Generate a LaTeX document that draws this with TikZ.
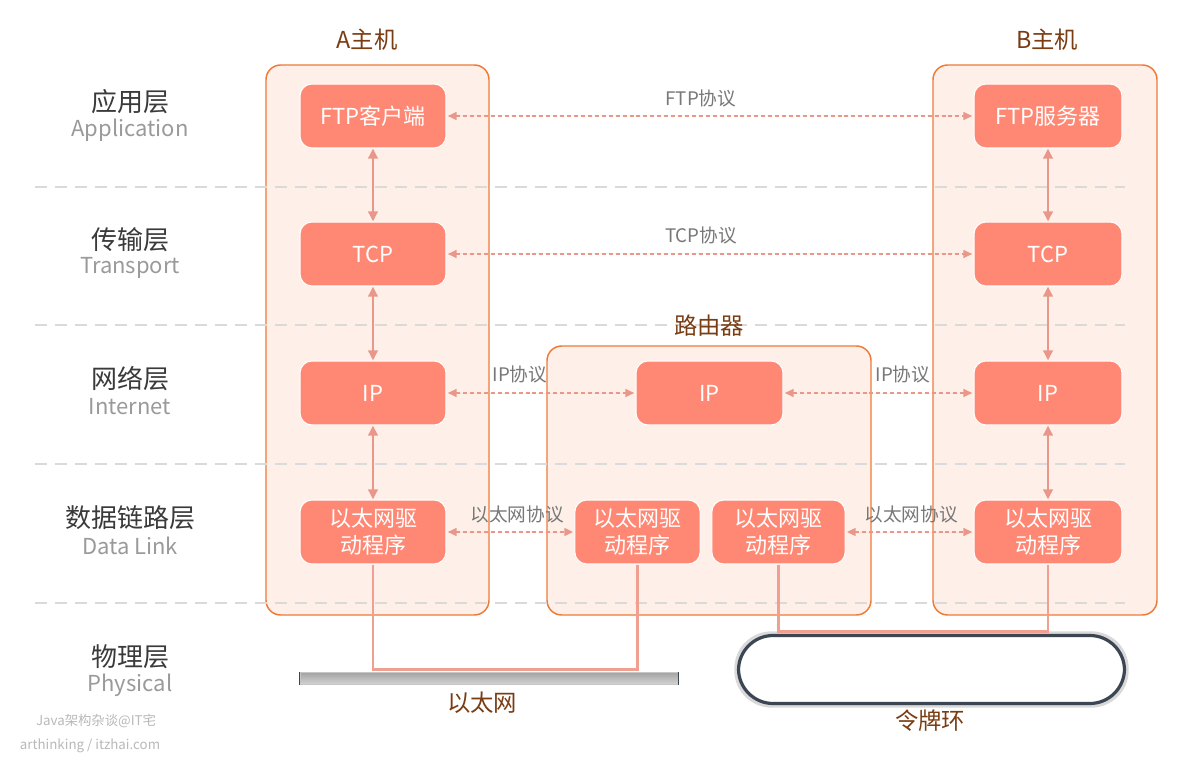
\documentclass[tikz,border=0pt]{standalone}
\usepackage{fontspec}
\setmainfont{Noto Sans CJK SC}
\usetikzlibrary{arrows.meta}
\definecolor{hostfill}{HTML}{FEF0E8}
\definecolor{hostline}{HTML}{EE7A38}
\definecolor{layerfill}{HTML}{FF8874}
\definecolor{arrowc}{HTML}{E9978A}
\definecolor{physc}{HTML}{F0A090}
\definecolor{dashc}{HTML}{DADADA}
\definecolor{brownc}{HTML}{7A3C12}
\definecolor{cnc}{HTML}{3A3A3A}
\definecolor{enc}{HTML}{9A9A9A}
\definecolor{protoc}{HTML}{787878}
\definecolor{ringc}{HTML}{3C4652}
\begin{document}
\begin{tikzpicture}[x=0.75pt,y=-0.75pt,
  host/.style={draw=hostline, fill=hostfill, line width=1.1pt, rounded corners=11pt, inner sep=0pt},
  layerbox/.style={draw=white, line width=0.8pt, fill=layerfill, text=white, rounded corners=9pt,
    font=\fontsize{16.5}{20.5}\selectfont, align=center, minimum height=48pt, inner sep=0pt},
  vlink/.style={{Triangle[length=7.5pt,width=7pt]}-{Triangle[length=7.5pt,width=7pt]}, draw=arrowc, line width=2.1pt},
  hlink/.style={{Triangle[length=6.5pt,width=6pt]}-{Triangle[length=6.5pt,width=6pt]}, draw=arrowc, fill=arrowc, line width=1.1pt, dash pattern=on 3pt off 2.2pt},
  proto/.style={text=protoc, font=\fontsize{14}{16}\selectfont, inner sep=1pt},
  title/.style={text=brownc, font=\fontsize{17.5}{20}\selectfont, inner sep=1pt},
  cnlab/.style={text=cnc, font=\fontsize{19.5}{22}\selectfont, inner sep=1pt},
  enlab/.style={text=enc, font=\fontsize{16.5}{19}\selectfont, inner sep=1pt},
  phys/.style={draw=physc, line width=2.2pt},
  layersep/.style={draw=dashc, line width=2.2pt, dash pattern=on 9pt off 6pt},
  wm/.style={text=gray!55, font=\fontsize{10}{12}\selectfont, inner sep=1pt}
]
\useasboundingbox[fill=white] (0,0) rectangle (1200,759);

% containers
\node[host, minimum width=167.25pt, minimum height=412.5pt] (hostA) at (377.5,340) {};
\node[host, minimum width=168pt, minimum height=412.5pt] (hostB) at (1045,340) {};
\node[host, minimum width=243pt, minimum height=201.75pt] (router) at (709,480.5) {};

% layer separators
\coordinate (s1a) at (35,187); \coordinate (s1b) at (1125,187);
\coordinate (s2a) at (35,325); \coordinate (s2b) at (1125,325);
\coordinate (s3a) at (35,464); \coordinate (s3b) at (1125,464);
\coordinate (s4a) at (35,603); \coordinate (s4b) at (1125,603);
\draw[layersep] (s1a) -- (s1b);
\draw[layersep] (s2a) -- (s2b);
\draw[layersep] (s3a) -- (s3b);
\draw[layersep] (s4a) -- (s4b);

% titles
\node[title] (tA) at (367,40) {A主机};
\node[title] (tB) at (1047,40) {B主机};
\node[title] (tR) at (709,326) {路由器};

% layer labels
\node[cnlab] (l1) at (130,102) {应用层};
\node[enlab] (l1e) at (130,130) {Application};
\node[cnlab] (l2) at (130,240) {传输层};
\node[enlab] (l2e) at (130,268) {Transport};
\node[cnlab] (l3) at (130,379) {网络层};
\node[enlab] (l3e) at (130,407) {Internet};
\node[cnlab] (l4) at (130,518) {数据链路层};
\node[enlab] (l4e) at (130,546) {Data Link};
\node[cnlab] (l5) at (130,657) {物理层};
\node[enlab] (l5e) at (130,685) {Physical};

% host A boxes
\node[layerbox, minimum width=109.5pt] (ftpA) at (373,116) {FTP客户端};
\node[layerbox, minimum width=109.5pt] (tcpA) at (373,254) {TCP};
\node[layerbox, minimum width=109.5pt] (ipA) at (373,393) {IP};
\node[layerbox, minimum width=109.5pt] (ethA) at (373,532) {以太网驱\\动程序};
% host B boxes
\node[layerbox, minimum width=111pt] (ftpB) at (1048,116) {FTP服务器};
\node[layerbox, minimum width=111pt] (tcpB) at (1048,254) {TCP};
\node[layerbox, minimum width=111pt] (ipB) at (1048,393) {IP};
\node[layerbox, minimum width=111pt] (ethB) at (1048,532) {以太网驱\\动程序};
% router boxes
\node[layerbox, minimum width=110.25pt] (ipR) at (709.5,393) {IP};
\node[layerbox, minimum width=94pt] (ethR1) at (637.5,532) {以太网驱\\动程序};
\node[layerbox, minimum width=100pt] (ethR2) at (778.5,532) {以太网驱\\动程序};

% vertical links
\draw[vlink] (ftpA.south) -- (tcpA.north);
\draw[vlink] (tcpA.south) -- (ipA.north);
\draw[vlink] (ipA.south) -- (ethA.north);
\draw[vlink] (ftpB.south) -- (tcpB.north);
\draw[vlink] (tcpB.south) -- (ipB.north);
\draw[vlink] (ipB.south) -- (ethB.north);

% peer protocols
\draw[hlink, shorten <=1pt, shorten >=1pt] (ftpA.east) -- (ftpB.west);
\node[proto] (pftp) at (701,98) {FTP协议};
\draw[hlink, shorten <=1pt, shorten >=1pt] (tcpA.east) -- (tcpB.west);
\node[proto] (ptcp) at (701,235) {TCP协议};
\draw[hlink, shorten <=1pt, shorten >=1pt] (ipA.east) -- (ipR.west);
\node[proto] (pip1) at (520,374) {IP协议};
\draw[hlink, shorten <=1pt, shorten >=1pt] (ipR.east) -- (ipB.west);
\node[proto] (pip2) at (903,374) {IP协议};
\draw[hlink, shorten <=1pt, shorten >=1pt] (ethA.east) -- (ethR1.west);
\node[proto] (peth1) at (517,514) {以太网协议};
\draw[hlink, shorten <=1pt, shorten >=1pt] (ethR2.east) -- (ethB.west);
\node[proto] (peth2) at (911,514) {以太网协议};

% ethernet cable
\node[draw=gray!45, line width=0.6pt, top color=gray!70, bottom color=gray!35, minimum width=283.5pt, minimum height=8.5pt, inner sep=0pt] (cable) at (489,678.5) {};
\draw[ringc, line width=1pt] (cable.north west) -- (cable.south west);
\draw[ringc, line width=1.2pt] (cable.north east) -- (cable.south east);
\node[title] (tcable) at (482,703) {以太网};

% token ring
\node[draw=gray!30, line width=4pt, rounded corners=26pt, minimum width=291.75pt, minimum height=53.25pt, inner sep=0pt] (ringhalo) at (931.5,669.5) {};
\node[draw=ringc, line width=2.4pt, rounded corners=26pt, minimum width=289.5pt, minimum height=51pt, inner sep=0pt] (ring) at (931.5,669.5) {};
\node[title] (tring) at (930,721) {令牌环};

% physical links
\draw[phys] (ethA.south) -- ++(0,105) -| (ethR1.south);
\draw[phys] (ethR2.south) -- ++(0,67) -| (ethB.south);

% watermark
\node[wm] (wm1) at (96,721) {Java架构杂谈@IT宅};
\node[wm] (wm2) at (90,746) {arthinking / itzhai.com};
\end{tikzpicture}
\end{document}
